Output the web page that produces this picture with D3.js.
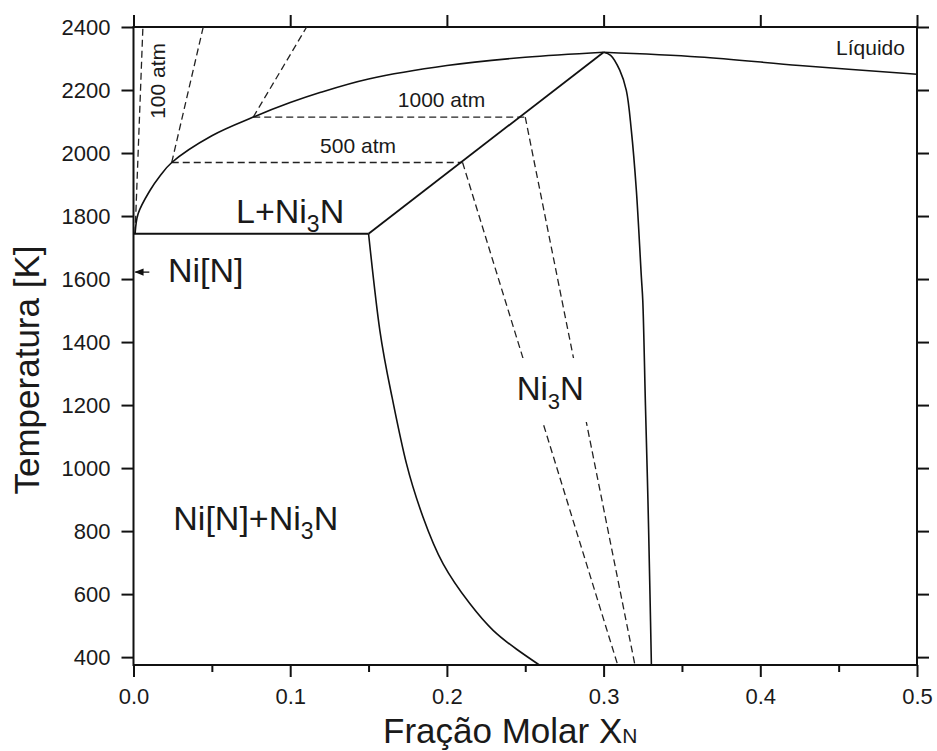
<!DOCTYPE html>
<meta charset="utf-8">
<style>
body{margin:0;background:#fff;}
text{font-family:Arial,"Liberation Sans",sans-serif;fill:#1a1a1a;}
.tick text{font-size:22px;}
.solid{fill:none;stroke:#111;stroke-width:1.6px;}
.dash{fill:none;stroke:#222;stroke-width:1.3px;stroke-dasharray:7,4;}
</style>
<body>
<script src="https://d3js.org/d3.v7.min.js"></script>
<script>

// phase boundaries, x = molar fraction of N, T = temperature [K]
var liqLeftX  = [0.001,0.003,0.0105,0.017,0.0244,0.05,0.0764,0.1,0.119,0.15,0.2,0.25,0.3];
var liqLeftT  = [1744,1808,1881,1928,1970,2055,2114,2160,2192,2235,2278,2304,2320];
var liqRightX = [0.3,0.361,0.425,0.5];
var liqRightT = [2320,2305,2278,2250];
var eutX = [0,0.15];
var eutT = [1744,1744];
var ni3nLiqX = [0.15,0.3];
var ni3nLiqT = [1744,2320];
var solvusX = [0.15,0.1572,0.165,0.1742,0.1848,0.1976,0.2146,0.2295,0.2445,0.259];
var solvusT = [1744,1437,1225,1014,844,696,570,485,425,375];
var ni3nRightX = [0.3,0.3045,0.3103,0.3145,0.3177,0.3209,0.3241,0.325,0.3267,0.3283,0.3296,0.3305];
var ni3nRightT = [2320,2310,2263,2199,2072,1882,1606,1532,1200,897,600,375];

// isobars (dashed)
var p100X = [0.001,0.006];
var p100T = [1744,2400];
var p500UpX = [0.0244,0.0445];
var p500UpT = [1970,2400];
var p500HX = [0.0244,0.21];
var p500HT = [1970,1970];
var p500DownX = [0.21,0.309];
var p500DownT = [1970,375];
var p1000UpX = [0.0764,0.1105];
var p1000UpT = [2114,2400];
var p1000HX = [0.0764,0.25];
var p1000HT = [2114,2114];
var p1000DownX = [0.25,0.32];
var p1000DownT = [2114,375];

var xTicks = [0,0.1,0.2,0.3,0.4,0.5];
var xMinor = [0.05,0.15,0.25,0.35,0.45];
var yTicks = [400,600,800,1000,1200,1400,1600,1800,2000,2200,2400];

var W = 937, H = 751;
var L = 133.5, R = 917, T = 27, B = 665;

var x = d3.scaleLinear().domain([0,0.5]).range([L,R]);
var y = d3.scaleLinear().domain([375,2400]).range([B,T]);

var svg = d3.select("body").append("svg").attr("width",W).attr("height",H);

svg.append("defs").append("marker").attr("id","arr")
  .attr("viewBox","0 0 10 10").attr("refX",9).attr("refY",5)
  .attr("markerWidth",7).attr("markerHeight",7).attr("orient","auto")
  .append("path").attr("d","M0,1 L10,5 L0,9 Z").attr("fill","#111");

function zip(xs,ts){ return xs.map(function(v,i){ return [v,ts[i]]; }); }
var line = d3.line().x(d=>x(d[0])).y(d=>y(d[1]));
var smooth = d3.line().x(d=>x(d[0])).y(d=>y(d[1])).curve(d3.curveCatmullRom.alpha(0.5));
var natural = d3.line().x(d=>x(d[0])).y(d=>y(d[1])).curve(d3.curveNatural);

// axes
function styleAxis(g){
  g.select(".domain").remove();
  g.selectAll(".tick line").attr("stroke","#111").attr("stroke-width",2);
}
svg.append("g").attr("transform","translate(0,"+B+")")
  .call(d3.axisBottom(x).tickValues(xTicks).tickFormat(d3.format(".1f")).tickSize(12).tickPadding(11))
  .call(styleAxis);
svg.append("g").attr("transform","translate(0,"+B+")")
  .call(d3.axisBottom(x).tickValues(xMinor).tickFormat("").tickSize(7))
  .call(styleAxis);
svg.append("g").attr("transform","translate(0,"+T+")")
  .call(d3.axisTop(x).tickValues(xTicks).tickFormat("").tickSize(12))
  .call(styleAxis);
svg.append("g").attr("transform","translate("+L+",0)")
  .call(d3.axisLeft(y).tickValues(yTicks).tickFormat(d3.format("d")).tickSize(12).tickPadding(11))
  .call(styleAxis);
svg.append("g").attr("transform","translate("+R+",0)")
  .call(d3.axisRight(y).tickValues(yTicks).tickFormat("").tickSize(12))
  .call(styleAxis);
svg.selectAll(".tick text").attr("fill","#1a1a1a").style("font-family","Arial,'Liberation Sans',sans-serif");

svg.append("rect").attr("x",L).attr("y",T).attr("width",R-L).attr("height",B-T)
  .attr("fill","none").attr("stroke","#111").attr("stroke-width",2);

var dashG = svg.append("g");
var gapG = svg.append("g");
var solidG = svg.append("g");
var labelG = svg.append("g");

// dashed isobars
[[p100X,p100T],[p500UpX,p500UpT],[p500HX,p500HT],[p500DownX,p500DownT],
 [p1000UpX,p1000UpT],[p1000HX,p1000HT],[p1000DownX,p1000DownT]].forEach(function(s){
  dashG.append("path").attr("class","dash").attr("d",line(zip(s[0],s[1])));
});

// solid boundaries
solidG.append("path").attr("class","solid").attr("d",smooth(zip(liqLeftX,liqLeftT)));
solidG.append("path").attr("class","solid").attr("d",smooth(zip(liqRightX,liqRightT)));
solidG.append("path").attr("class","solid").attr("d",line(zip(eutX,eutT))).style("stroke-width","2px");
solidG.append("path").attr("class","solid").attr("d",line(zip(ni3nLiqX,ni3nLiqT))).style("stroke-width","1.8px");
solidG.append("path").attr("class","solid").attr("d",natural(zip(solvusX,solvusT)));
solidG.append("path").attr("class","solid").attr("d",smooth(zip(ni3nRightX,ni3nRightT)));

// arrow to Ni[N]
solidG.append("line").attr("x1",x(0.0101)).attr("y1",y(1622)).attr("x2",x(0.0012)).attr("y2",y(1622))
  .attr("stroke","#111").attr("stroke-width",1.3).attr("marker-end","url(#arr)");

// region labels with subscripts
function formula(px,py,parts,size){
  var t = labelG.append("text").attr("x",px).attr("y",py).style("font-size",size+"px");
  var shift = 0;
  parts.forEach(function(p){
    var sub = p[1];
    var s = Math.round(size*0.27);
    var dy = sub ? s - shift : -shift;
    shift = sub ? s : 0;
    t.append("tspan").text(p[0]).attr("dy",dy)
      .style("font-size",(sub ? Math.round(size*0.68) : size)+"px");
  });
  return t;
}
formula(x(0.0654),y(1778),[["L+Ni"],["3",1],["N"]],34);
formula(x(0.022),y(1591),[["Ni[N]"]],34);
var ni3n = formula(x(0.2445),y(1216),[["Ni"],["3",1],["N"]],33);
formula(x(0.0254),y(803),[["Ni[N]+Ni"],["3",1],["N"]],34);

// gap in the isobars behind the Ni3N label
var bb = ni3n.node().getBBox();
gapG.append("rect")
  .attr("x",bb.x-4).attr("y",bb.y-12).attr("width",bb.width+8).attr("height",bb.height+20)
  .attr("fill","#fff");

labelG.append("text").attr("x",x(0.4923)).attr("y",y(2311)).attr("text-anchor","end")
  .style("font-size","21px").text("Líquido");
labelG.append("text").attr("x",x(0.1966)).attr("y",y(2145)).attr("text-anchor","middle")
  .style("font-size","21px").text("1000 atm");
labelG.append("text").attr("x",x(0.1433)).attr("y",y(1999)).attr("text-anchor","middle")
  .style("font-size","21px").text("500 atm");
labelG.append("text").attr("transform","translate("+x(0.0201)+","+y(2229)+") rotate(-90)")
  .attr("text-anchor","middle").style("font-size","21px").text("100 atm");

// axis titles
svg.append("text").attr("transform","translate(38.5,370) rotate(-90)")
  .attr("text-anchor","middle").style("font-size","35px").text("Temperatura [K]");
var xt = svg.append("text").attr("x",383).attr("y",743).style("font-size","35px");
xt.append("tspan").text("Fração Molar X");
xt.append("tspan").style("font-size","21px").text("N");

</script>
</body>
</html>
